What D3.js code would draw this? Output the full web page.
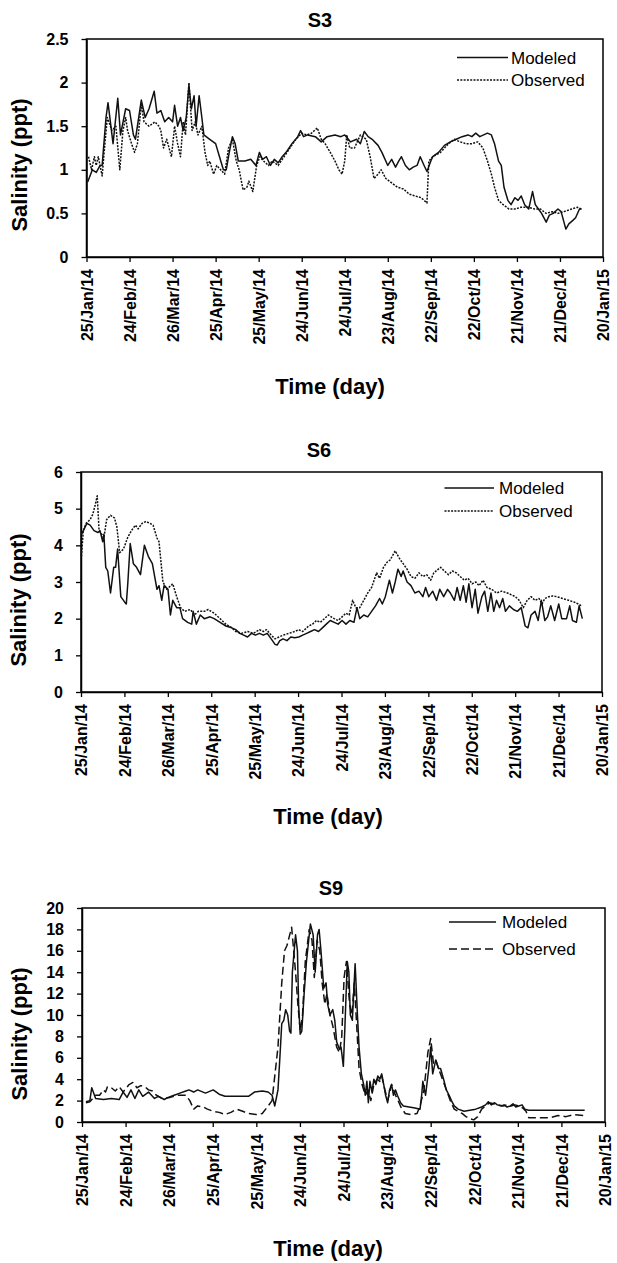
<!DOCTYPE html>
<html>
<head>
<meta charset="utf-8">
<script src="https://cdn.jsdelivr.net/npm/d3@7"></script>
<style>
  body { margin: 0; background: #fff; }
  svg { display: block; }
  text { font-family: "Liberation Sans", Arial, sans-serif; fill: #000; }
</style>
</head>
<body>
<svg id="chart" width="617" height="1263"></svg>
<script>
// ---------- DATA ----------
const xTickLabels = ["25/Jan/14","24/Feb/14","26/Mar/14","25/Apr/14","25/May/14","24/Jun/14","24/Jul/14","23/Aug/14","22/Sep/14","22/Oct/14","21/Nov/14","21/Dec/14","20/Jan/15"];
const s3YTicks = [0, 0.5, 1, 1.5, 2, 2.5];
const s6YTicks = [0, 1, 2, 3, 4, 5, 6];
const s9YTicks = [0, 2, 4, 6, 8, 10, 12, 14, 16, 18, 20];
const seriesNames = ["Modeled", "Observed"];

// [day since 25/Jan/14, salinity ppt]
const s3Modeled = [[0.8,0.86],[4.1,1.0],[6.8,0.97],[9.5,1.05],[10.9,1.05],[13.6,1.6],[15.0,1.77],[18.5,1.3],[21.8,1.82],[23.7,1.4],[27.3,1.7],[30.0,1.68],[32.7,1.4],[34.1,1.35],[38.2,1.8],[40.9,1.6],[43.6,1.7],[47.2,1.9],[49.1,1.65],[51.8,1.68],[54.5,1.55],[57.3,1.6],[60.0,1.55],[61.4,1.74],[63.5,1.5],[65.5,1.6],[67.4,1.45],[69.5,1.6],[71.4,1.97],[73.1,1.7],[75.0,1.85],[76.4,1.5],[78.5,1.85],[80.4,1.6],[81.8,1.4],[85.9,1.35],[90.0,1.3],[92.7,1.15],[95.4,1.0],[97.4,1.0],[99.5,1.2],[101.7,1.38],[103.6,1.3],[105.8,1.1],[110.4,1.1],[114.5,1.12],[118.1,1.05],[120.5,1.2],[122.7,1.12],[125.4,1.15],[128.2,1.05],[130.9,1.12],[133.6,1.08],[136.4,1.15],[139.1,1.2],[143.2,1.3],[147.3,1.38],[149.2,1.45],[151.3,1.38],[154.1,1.4],[159.5,1.38],[163.6,1.32],[167.7,1.38],[173.2,1.4],[177.3,1.38],[180.0,1.4],[184.1,1.32],[188.2,1.35],[190.9,1.3],[193.6,1.44],[196.3,1.38],[199.1,1.35],[203.2,1.28],[205.9,1.2],[210.0,1.05],[212.7,1.12],[215.4,1.03],[217.6,1.1],[219.5,1.15],[222.3,1.05],[225.0,1.0],[227.7,1.03],[230.4,1.05],[232.6,1.15],[235.3,1.05],[237.3,0.98],[240.0,1.1],[241.3,1.15],[245.4,1.2],[249.5,1.28],[253.6,1.32],[257.7,1.35],[261.8,1.38],[265.9,1.4],[268.6,1.38],[271.3,1.42],[274.1,1.38],[276.8,1.4],[279.5,1.42],[282.2,1.4],[284.4,1.3],[287.2,1.1],[289.1,1.05],[291.0,0.8],[293.7,0.65],[295.9,0.6],[298.6,0.68],[300.8,0.65],[303.0,0.7],[305.4,0.6],[308.2,0.55],[310.9,0.75],[312.8,0.6],[315.0,0.55],[317.2,0.5],[320.4,0.4],[322.6,0.48],[325.3,0.5],[328.6,0.55],[330.8,0.52],[334.1,0.32],[336.2,0.38],[339.0,0.42],[340.9,0.45],[343.6,0.55],[345.0,0.55]];
const s3Observed = [[1.4,1.15],[3.5,1.0],[5.5,1.15],[6.8,1.05],[8.2,1.15],[10.9,0.93],[12.3,1.2],[14.5,1.6],[17.7,1.45],[20.5,1.5],[23.2,1.0],[25.4,1.45],[27.3,1.6],[28.6,1.45],[31.4,1.3],[33.5,1.2],[35.5,1.3],[38.2,1.75],[40.1,1.55],[43.6,1.5],[47.7,1.55],[50.5,1.5],[51.8,1.45],[53.7,1.25],[55.9,1.35],[59.2,1.15],[61.4,1.5],[63.5,1.3],[65.5,1.15],[67.4,1.55],[69.0,1.4],[71.4,2.0],[73.6,1.45],[75.8,1.55],[77.7,1.4],[80.4,1.5],[82.6,1.2],[84.5,1.05],[85.9,1.1],[88.6,0.95],[90.8,1.05],[93.5,1.0],[96.3,0.95],[99.0,1.25],[101.7,1.35],[104.4,1.1],[106.4,1.0],[109.1,0.77],[111.8,0.8],[113.2,0.87],[115.9,0.75],[118.6,1.05],[120.8,1.15],[123.5,1.1],[126.8,1.05],[129.5,1.1],[133.6,1.05],[137.7,1.15],[141.8,1.25],[145.9,1.35],[150.0,1.42],[153.5,1.4],[156.8,1.42],[160.9,1.48],[163.6,1.35],[166.3,1.3],[169.9,1.2],[173.2,1.1],[175.9,1.0],[178.1,0.95],[180.0,1.1],[181.4,1.4],[183.5,1.25],[186.8,1.25],[190.9,1.4],[195.0,1.35],[197.7,1.15],[200.4,0.9],[203.2,0.95],[205.4,1.0],[208.6,0.9],[212.7,0.85],[216.8,0.8],[220.9,0.78],[225.0,0.72],[229.1,0.7],[233.2,0.68],[237.3,0.62],[238.6,1.1],[241.3,1.15],[246.8,1.2],[252.3,1.3],[256.4,1.35],[260.5,1.32],[264.5,1.3],[268.6,1.3],[272.7,1.32],[276.3,1.25],[279.5,1.1],[282.2,0.95],[284.4,0.8],[287.2,0.65],[290.4,0.6],[294.5,0.55],[298.6,0.55],[302.7,0.57],[308.2,0.57],[312.3,0.55],[316.4,0.55],[320.4,0.5],[324.5,0.52],[328.6,0.5],[332.7,0.52],[338.2,0.55],[342.2,0.57],[345.0,0.55]];

const s6Modeled = [[0.3,4.3],[4.1,4.6],[6.3,4.55],[9.0,4.4],[11.7,4.35],[13.1,4.4],[15.0,4.1],[15.8,4.3],[17.1,3.4],[18.5,3.3],[20.4,2.7],[22.6,3.4],[23.9,3.4],[25.3,3.9],[27.5,2.6],[30.2,2.45],[31.3,2.4],[32.4,3.0],[34.0,4.05],[36.2,3.5],[38.4,3.4],[41.1,3.2],[43.8,4.0],[46.5,3.7],[49.3,3.5],[52.5,2.8],[53.9,2.9],[55.8,2.5],[57.4,2.9],[60.1,2.8],[61.8,2.1],[63.4,2.5],[66.1,2.3],[68.3,2.3],[70.2,2.0],[73.7,1.9],[76.5,1.85],[77.5,2.2],[79.7,1.85],[82.4,2.1],[85.2,2.0],[89.2,2.05],[92.0,2.0],[96.1,1.9],[100.1,1.8],[104.2,1.75],[106.9,1.7],[109.7,1.6],[112.4,1.55],[115.1,1.5],[117.8,1.6],[120.5,1.55],[123.3,1.6],[126.0,1.55],[128.7,1.6],[131.4,1.45],[134.1,1.3],[135.5,1.28],[137.4,1.4],[139.6,1.45],[142.3,1.4],[145.0,1.5],[147.7,1.48],[150.5,1.5],[153.2,1.55],[155.9,1.6],[158.6,1.65],[161.4,1.7],[164.1,1.65],[166.8,1.75],[169.5,1.85],[172.2,1.95],[175.0,1.9],[177.7,1.85],[180.4,1.95],[183.1,1.85],[185.8,1.95],[188.6,1.9],[190.7,2.3],[192.6,2.0],[195.4,2.1],[198.1,2.05],[200.8,2.2],[203.5,2.35],[206.3,2.55],[208.2,2.4],[210.3,2.6],[213.1,3.05],[215.2,2.7],[217.1,3.0],[219.0,3.35],[221.2,3.15],[222.6,3.3],[225.3,3.0],[228.0,2.9],[230.7,2.7],[233.5,2.75],[236.2,2.6],[238.1,2.85],[240.3,2.6],[243.0,2.75],[245.7,2.5],[247.9,2.8],[250.6,2.6],[253.3,2.8],[255.2,2.7],[258.0,2.5],[259.9,2.85],[262.0,2.5],[264.2,2.9],[266.1,2.45],[268.0,2.95],[270.2,2.3],[272.4,2.8],[274.3,2.15],[277.0,2.6],[278.9,2.75],[281.1,2.2],[283.3,2.7],[285.2,2.2],[287.1,2.5],[289.2,2.3],[291.4,2.55],[293.3,2.2],[296.0,2.35],[298.8,2.25],[301.5,2.2],[304.2,2.3],[306.9,1.8],[308.8,1.75],[311.0,2.1],[313.7,2.2],[315.9,1.95],[318.1,2.5],[320.5,1.95],[322.4,2.05],[324.6,2.35],[327.3,1.95],[330.1,2.4],[332.2,2.0],[335.5,2.0],[337.7,2.35],[339.6,1.95],[342.3,1.9],[344.2,2.35],[346.4,2.0]];
const s6Observed = [[0.3,3.7],[1.6,4.4],[3.5,4.6],[6.3,4.7],[8.2,4.85],[9.8,5.1],[11.2,5.35],[12.5,4.4],[14.4,4.3],[15.8,4.2],[17.7,4.7],[20.4,4.82],[23.1,4.75],[24.8,4.5],[26.7,3.8],[29.4,3.9],[32.1,4.2],[34.8,4.4],[37.6,4.55],[39.5,4.45],[42.2,4.6],[44.9,4.65],[47.6,4.6],[49.8,4.55],[52.5,4.2],[53.9,4.1],[56.6,3.0],[59.3,2.8],[63.4,2.95],[66.1,2.6],[68.8,2.3],[71.6,2.2],[75.6,2.25],[78.4,2.1],[81.1,2.2],[85.2,2.2],[87.9,2.25],[92.0,2.15],[96.1,2.0],[100.1,1.85],[104.2,1.75],[106.9,1.65],[111.0,1.6],[115.1,1.65],[119.2,1.6],[123.3,1.7],[126.0,1.65],[128.2,1.7],[131.4,1.55],[134.1,1.45],[136.9,1.5],[139.6,1.55],[143.7,1.6],[147.7,1.65],[150.5,1.7],[153.2,1.65],[157.3,1.8],[160.0,1.85],[162.7,1.95],[165.4,1.9],[168.2,2.0],[170.9,2.1],[175.0,2.0],[177.7,1.95],[180.4,2.05],[183.1,2.15],[185.3,2.1],[187.7,2.5],[189.9,2.3],[192.6,2.3],[195.4,2.5],[198.1,2.7],[200.8,2.85],[204.3,3.25],[206.3,3.1],[209.0,3.4],[211.7,3.55],[213.6,3.6],[217.1,3.85],[219.9,3.65],[222.6,3.5],[225.3,3.35],[228.0,3.15],[230.7,3.1],[233.5,3.25],[236.2,3.15],[238.9,3.2],[241.6,3.05],[243.8,3.25],[248.4,3.4],[251.1,3.3],[253.9,3.2],[256.6,3.3],[259.3,3.25],[262.0,3.15],[264.8,3.05],[267.5,3.1],[270.2,2.95],[272.9,3.0],[275.1,2.9],[277.8,3.05],[280.5,2.85],[283.8,2.8],[287.1,2.7],[290.6,2.75],[294.7,2.7],[297.4,2.65],[300.1,2.6],[302.8,2.5],[305.6,2.3],[308.3,2.5],[311.0,2.6],[313.7,2.5],[316.5,2.55],[318.6,2.4],[320.5,2.55],[323.3,2.6],[326.0,2.62],[328.7,2.6],[332.8,2.55],[336.9,2.5],[341.0,2.45],[343.6,2.4],[345.8,2.35]];

const s9Modeled = [[2.7,1.9],[5.4,2.0],[6.7,3.2],[9.4,2.2],[14.8,2.1],[20.2,2.2],[25.6,2.1],[28.3,2.8],[31.0,2.3],[33.7,3.0],[36.4,2.2],[39.1,3.0],[41.8,2.4],[45.8,2.8],[49.9,2.2],[52.6,2.4],[56.6,2.1],[59.3,2.3],[63.4,2.5],[67.4,2.7],[71.5,2.9],[73.6,3.0],[76.9,2.8],[79.6,3.0],[85.0,2.7],[90.3,3.0],[94.4,2.6],[98.4,2.4],[106.5,2.4],[114.6,2.4],[118.7,2.8],[124.1,2.9],[128.1,2.8],[130.8,2.5],[132.7,1.5],[134.9,3.0],[136.2,6.0],[137.5,9.2],[138.9,9.5],[140.2,10.5],[141.6,10.0],[142.9,8.5],[143.8,8.3],[144.8,14],[147.0,17.5],[148.3,16],[149.1,11],[150.2,8.2],[151.3,8.5],[152.9,12],[154.5,15],[157.2,18.5],[159.1,17.5],[160.5,14],[162.1,17.5],[163.2,18],[164.5,16],[166.4,12.5],[168.0,13],[169.1,11],[170.7,10],[172.6,10.5],[174.0,9.5],[175.3,7.5],[177.2,6.8],[178.3,7],[179.9,5.2],[181.0,9],[182.6,15],[183.7,14],[184.7,10],[186.1,9.5],[188.0,14.8],[189.6,10],[190.7,7],[192.3,4.5],[193.9,3.5],[195.0,2.5],[196.1,3.8],[197.1,1.8],[198.2,3.8],[199.6,2.8],[200.9,4.0],[202.3,3.5],[203.6,4.3],[205.0,4.0],[206.3,4.5],[207.7,3.5],[209.0,2.5],[210.4,1.8],[211.7,3.0],[213.1,3.5],[214.4,2.5],[215.8,3.0],[217.1,2.5],[219.3,1.8],[221.2,1.5],[225.2,1.4],[229.2,1.3],[232.7,1.2],[233.8,2.5],[234.6,3.8],[236.5,2.5],[238.7,5.0],[240.0,7.0],[241.4,4.5],[243.5,5.8],[245.4,5.0],[246.8,5.0],[248.9,4.0],[250.8,3.0],[252.7,2.5],[254.3,2.0],[256.2,1.5],[258.9,1.2],[263.0,1.0],[267.0,1.1],[271.0,1.2],[275.1,1.4],[277.8,1.6],[279.7,1.9],[281.8,1.6],[284.0,1.8],[285.9,1.6],[288.6,1.5],[290.5,1.6],[292.6,1.4],[294.8,1.5],[296.7,1.7],[298.6,1.4],[300.7,1.5],[302.9,1.6],[304.8,1.2],[307.5,1.1],[322.3,1.1],[346.0,1.1]];
const s9Observed = [[2.7,1.8],[5.4,1.9],[9.4,2.5],[12.1,2.5],[14.8,3.0],[16.2,2.8],[17.5,3.3],[20.2,3.2],[22.9,2.9],[25.6,3.3],[28.3,2.8],[32.4,3.5],[35.1,3.7],[37.8,3.2],[40.5,3.4],[43.2,3.3],[45.8,3.0],[48.5,2.9],[51.2,2.5],[55.3,2.2],[60.7,2.3],[66.1,2.5],[71.5,2.5],[74.2,2.0],[76.9,1.2],[79.6,1.5],[83.6,1.4],[86.3,1.2],[90.3,1.0],[94.4,0.9],[98.4,0.7],[102.5,0.9],[106.5,1.2],[110.6,1.0],[114.6,0.8],[120.0,0.7],[124.1,0.8],[128.1,1.5],[130.8,2.0],[134.9,7],[137.5,13],[139.4,16],[141.1,16.5],[144.3,18.2],[147.0,14],[148.6,11],[150.2,8.5],[151.8,10],[153.7,15],[156.4,18],[158.3,17],[159.9,13.5],[161.8,17],[163.7,16],[165.3,13],[167.2,11],[168.6,12],[170.7,10],[172.6,9],[175.3,7],[177.2,6.5],[178.8,8],[180.4,13.5],[182.0,15],[184.2,11],[185.8,10],[187.4,13],[189.1,9],[190.7,5],[192.8,3.5],[195.0,2.5],[196.9,3.0],[198.8,2.0],[200.9,3.5],[203.1,4.0],[205.0,3.8],[206.3,4.3],[208.5,3.0],[210.4,2.0],[213.1,3.5],[215.8,2.5],[217.6,2.0],[219.8,1.3],[222.5,0.8],[226.5,0.7],[230.6,0.8],[232.7,1.5],[235.4,3.0],[238.1,6.5],[240.0,7.8],[241.9,5.5],[243.5,5.8],[245.4,5.0],[248.1,4.0],[250.8,3.0],[253.5,2.0],[256.2,1.2],[258.9,1.0],[261.6,0.8],[264.3,0.5],[267.0,0.3],[269.7,0.2],[272.4,0.5],[275.1,1.2],[277.8,1.5],[280.5,1.8],[283.2,1.7],[285.9,1.6],[289.9,1.5],[292.6,1.6],[295.3,1.5],[298.0,1.6],[300.7,1.5],[303.4,1.3],[305.6,1.0],[307.5,0.4],[322.3,0.4],[327.7,0.6],[333.1,0.5],[338.5,0.7],[346.0,0.6]];

// ---------- LAYOUT ----------
const panels = [
  { title: "S3", modeled: s3Modeled, observed: s3Observed, yTicks: s3YTicks, obsDash: "2,1.3",
    box: { l: 86.5, r: 603, t: 39, b: 257 }, titleXY: [320, 27], yLabelXY: [27, 165], xLabelXY: [330, 394],
    legend: { x1: 457, x2: 508, tx: 511, y1: 57.5, y2: 80 } },
  { title: "S6", modeled: s6Modeled, observed: s6Observed, yTicks: s6YTicks, obsDash: "2,1.3",
    box: { l: 81, r: 602, t: 472, b: 692 }, titleXY: [319, 456.5], yLabelXY: [26, 600], xLabelXY: [328, 824],
    legend: { x1: 444.5, x2: 494, tx: 499, y1: 488, y2: 511 } },
  { title: "S9", modeled: s9Modeled, observed: s9Observed, yTicks: s9YTicks, obsDash: "8,4",
    box: { l: 82, r: 605, t: 908, b: 1122 }, titleXY: [331, 895], yLabelXY: [27, 1034], xLabelXY: [328, 1256],
    legend: { x1: 449, x2: 496, tx: 502, y1: 922, y2: 949 } }
];

const svg = d3.select("#chart");
svg.append("rect").attr("width", 617).attr("height", 1263).attr("fill", "#fff");

const parseTick = d3.utcParse("%d/%b/%y");
const xTickDates = xTickLabels.map(parseTick);
const startDate = xTickDates[0];
const endDate = xTickDates[xTickDates.length - 1];
const toDate = day => new Date(startDate.getTime() + day * 864e5);
const FONT = '"Liberation Sans", Arial, sans-serif';

panels.forEach(p => {
  const { l, r, t, b } = p.box;
  const yMax = p.yTicks[p.yTicks.length - 1];
  const x = d3.scaleUtc().domain([startDate, endDate]).range([l, r]);
  const y = d3.scaleLinear().domain([0, yMax]).range([b, t]);
  const g = svg.append("g");

  // plot box
  g.append("rect").attr("x", l).attr("y", t).attr("width", r - l).attr("height", b - t)
    .attr("fill", "none").attr("stroke", "#000").attr("stroke-width", 1.5);

  // y axis
  const ya = g.append("g").attr("transform", `translate(${l},0)`)
    .call(d3.axisLeft(y).tickValues(p.yTicks).tickSize(5).tickSizeOuter(0).tickPadding(13)
      .tickFormat(d => String(d)));
  ya.select(".domain").attr("stroke-width", 1.5);
  ya.selectAll(".tick line").attr("stroke-width", 1.3);
  ya.selectAll("text").attr("font-size", 16).attr("font-weight", "bold")
    .attr("font-family", FONT).attr("fill", "#000");

  // x axis
  const xa = g.append("g").attr("transform", `translate(0,${b})`)
    .call(d3.axisBottom(x).tickValues(xTickDates).tickSize(5).tickSizeOuter(0)
      .tickFormat((d, i) => xTickLabels[i]));
  xa.select(".domain").attr("stroke-width", 1.5);
  xa.selectAll(".tick line").attr("stroke-width", 1.3);
  xa.selectAll("text")
    .attr("font-size", 16).attr("font-weight", "bold")
    .attr("font-family", FONT).attr("fill", "#000")
    .attr("transform", "rotate(-90)")
    .attr("x", -12).attr("y", 0).attr("dy", "0.36em")
    .attr("text-anchor", "end");

  // series
  const line = d3.line().x(d => x(toDate(d[0]))).y(d => y(d[1]));
  g.append("path").datum(p.observed).attr("d", line)
    .attr("fill", "none").attr("stroke", "#111").attr("stroke-width", 1.5)
    .attr("stroke-dasharray", p.obsDash).attr("stroke-linejoin", "round");
  g.append("path").datum(p.modeled).attr("d", line)
    .attr("fill", "none").attr("stroke", "#111").attr("stroke-width", 1.5)
    .attr("stroke-linejoin", "round");

  // title
  g.append("text").attr("x", p.titleXY[0]).attr("y", p.titleXY[1])
    .attr("text-anchor", "middle").attr("font-size", 20).attr("font-weight", "bold").text(p.title);

  // axis titles
  g.append("text").attr("transform", `translate(${p.yLabelXY[0]},${p.yLabelXY[1]}) rotate(-90)`)
    .attr("text-anchor", "middle").attr("font-size", 22).attr("font-weight", "bold").text("Salinity (ppt)");
  g.append("text").attr("x", p.xLabelXY[0]).attr("y", p.xLabelXY[1])
    .attr("text-anchor", "middle").attr("font-size", 22).attr("font-weight", "bold").text("Time (day)");

  // legend
  const lg = p.legend;
  g.append("line").attr("x1", lg.x1).attr("x2", lg.x2).attr("y1", lg.y1).attr("y2", lg.y1)
    .attr("stroke", "#111").attr("stroke-width", 1.5);
  g.append("line").attr("x1", lg.x1).attr("x2", lg.x2).attr("y1", lg.y2).attr("y2", lg.y2)
    .attr("stroke", "#111").attr("stroke-width", 1.5).attr("stroke-dasharray", p.obsDash);
  g.append("text").attr("x", lg.tx).attr("y", lg.y1 + 6).attr("font-size", 17).text(seriesNames[0]);
  g.append("text").attr("x", lg.tx).attr("y", lg.y2 + 6).attr("font-size", 17).text(seriesNames[1]);
});
</script>
</body>
</html>
